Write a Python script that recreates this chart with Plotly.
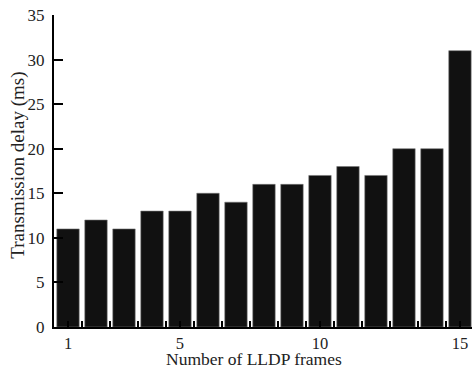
import plotly.graph_objects as go

frames = list(range(1, 16))
delay_ms = [11, 12, 11, 13, 13, 15, 14, 16, 16, 17, 18, 17, 20, 20, 31]
x_ticks = [1, 5, 10, 15]
y_ticks = [0, 5, 10, 15, 20, 25, 30, 35]
x_title = "Number of LLDP frames"
y_title = "Transmission delay (ms)"

FONT = "Liberation Serif"

fig = go.Figure(go.Bar(
    x=frames, y=delay_ms, width=0.8,
    marker=dict(color="#111111", line=dict(width=0.6, color="#777777")),
))

fig.update_layout(
    width=473, height=367,
    margin=dict(l=54, r=1, t=15, b=40, autoexpand=False),
    paper_bgcolor="white", plot_bgcolor="white",
    font=dict(family=FONT, size=17, color="#222222"),
    showlegend=False,
    bargap=0.2,
    annotations=[
        dict(text=x_title, xref="paper", yref="paper", x=0.478, y=-0.103,
             xanchor="center", yanchor="middle", showarrow=False,
             font=dict(size=17.5)),
        dict(text=y_title, xref="paper", yref="paper", x=-0.087, y=0.519,
             xanchor="center", yanchor="middle", showarrow=False, textangle=-90,
             font=dict(size=19)),
    ],
)

fig.update_xaxes(
    range=[0.5, 15.43], tickvals=x_ticks, ticktext=[str(v) for v in x_ticks],
    ticks="inside", ticklen=6, tickwidth=1.5, tickcolor="black",
    showline=True, linecolor="black", linewidth=2, showgrid=False, zeroline=False,
    automargin=False, ticklabeloverflow="allow",
    minor=dict(ticks="inside", tick0=0.5, dtick=1, ticklen=6, tickwidth=1.5, tickcolor="black", showgrid=False),
    tickfont=dict(size=16.5),
)
fig.update_yaxes(
    range=[0, 35], tickvals=y_ticks,
    ticks="inside", ticklen=9, tickwidth=2, tickcolor="black",
    showline=True, linecolor="black", linewidth=2, showgrid=False, zeroline=False,
    automargin=False, ticklabeloverflow="allow",
    ticklabelstandoff=4,
    tickfont=dict(size=17),
)

fig.write_html(
    "out.html",
    config={"displayModeBar": False},
    post_script="document.body.style.margin='0';document.body.style.overflow='hidden';",
)
